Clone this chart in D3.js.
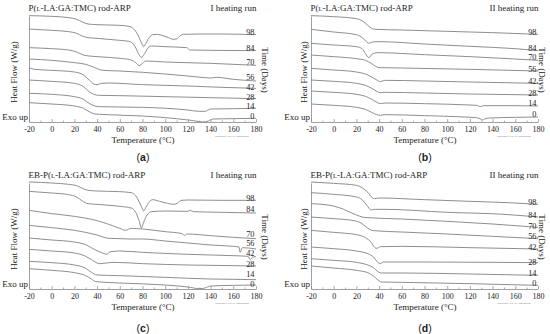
<!DOCTYPE html>
<html lang="en">
<head>
<meta charset="UTF-8">
<title>DSC heating runs</title>
<script src="https://cdn.jsdelivr.net/npm/d3@7"></script>
<style>
  body { margin:0; padding:0; background:#fff; }
  svg { display:block; }
  text { font-family: "Liberation Serif", "DejaVu Serif", serif; fill:#222; }
  .curve { fill:none; stroke:#888; stroke-width:0.95; }
  .xAxis path, .yAxis path { stroke:#888; stroke-width:0.8; }
  .xAxis line { stroke:#888; stroke-width:0.7; }
  .xAxis text { font-size:8px; }
  .lbl { font-size:9px; }
  .day { font-size:8.3px; }
  .tag { font-family:"Liberation Sans", Arial, sans-serif; font-size:10.5px; }
  .ta { font-family:"Liberation Sans", Arial, sans-serif; font-size:2.4px; fill:#777; }
</style>
</head>
<body>
<div id="chart"></div>
<script>
// curve order follows the day labels, top to bottom
const days = [98, 84, 70, 56, 42, 28, 14, 0];
const xTicks = [-20, 0, 20, 40, 60, 80, 100, 120, 140, 160, 180];
const minorTicks = [-10, 10, 30, 50, 70, 90, 110, 130, 150, 170];
const titlePrefix = ["P(", "P(", "EB-P(", "EB-P("];
const runs = ["I heating run", "II heating run", "I heating run", "II heating run"];
const tags = ["a", "b", "c", "d"];

// heat flow, arbitrary units (exo up), pairs of [temperature, value]
const curvesA = [
  [[-20,319],[0,317],[15,313],[22,308],[27,300],[32,294],[40,292],[60,290],[68,287],[72,280],[76,261],[80,231],[81,226],[83,236],[86,254],[89,262],[93,263],[98,259],[103,253],[107,248],[110,249],[113,258],[116,263],[130,264],[150,264],[180,262]],
  [[-20,279],[0,275],[15,271],[22,266],[27,258],[32,253],[40,251],[60,245],[68,242],[72,234],[75,216],[79,194],[82,206],[85,223],[88,228],[100,226],[119,223],[122,216],[140,215],[180,214]],
  [[-20,223],[0,220],[15,216],[22,210],[28,201],[33,198],[40,196],[60,191],[70,186],[74,178],[77,169],[80,176],[83,183],[100,180],[140,176],[180,170]],
  [[-20,189],[0,185],[20,178],[30,173],[38,163],[45,155],[60,153],[100,144],[120,138],[135,133],[140,132],[145,134],[160,128],[180,123]],
  [[-20,163],[-15,158],[0,155],[20,150],[28,141],[33,126],[37,114],[40,112],[44,116],[50,117],[80,112],[120,108],[150,104],[180,101]],
  [[-20,126],[0,122],[20,116],[28,106],[33,91],[38,82],[42,80],[60,79],[100,76],[140,73],[180,70]],
  [[-20,86],[0,83],[20,76],[28,68],[33,56],[38,48],[42,46],[80,44],[120,36],[130,32],[135,32],[140,39],[160,40],[180,41]],
  [[-20,58],[0,54],[20,48],[28,41],[33,31],[38,24],[42,23],[80,18],[110,10],[125,4],[133,0],[138,3],[142,9],[160,10],[180,11]]
];
const curvesB = [
  [[-20,319],[0,316],[20,310],[25,304],[30,290],[34,280],[37,278],[60,276],[100,272],[140,268],[180,263]],
  [[-20,278],[0,270],[20,262],[24,256],[28,244],[31,236],[34,240],[40,241],[80,234],[120,227],[160,220],[180,214]],
  [[-20,236],[0,231],[20,226],[25,220],[28,205],[31,193],[34,204],[38,208],[80,202],[120,196],[160,189],[180,185]],
  [[-20,201],[0,196],[20,190],[28,185],[33,176],[37,167],[40,163],[60,162],[120,158],[180,153]],
  [[-20,161],[0,156],[20,150],[28,144],[34,134],[38,126],[41,121],[45,125],[80,123],[120,120],[180,116]],
  [[-20,126],[0,122],[20,116],[28,110],[34,100],[38,92],[41,88],[45,89],[80,87],[120,84],[180,81]],
  [[-20,93],[0,89],[20,83],[28,77],[34,67],[38,59],[41,55],[45,57],[80,55],[120,51],[126,50],[129,46],[132,49],[160,49],[180,48]],
  [[-20,54],[0,50],[20,44],[28,38],[34,28],[38,22],[41,20],[45,22],[80,19],[115,15],[125,13],[129,10],[131,6],[133,9],[137,12],[160,14],[180,15]]
];
const curvesC = [
  [[-20,321],[0,318],[15,314],[22,310],[27,302],[32,296],[40,294],[60,292],[70,289],[74,280],[77,262],[80,240],[81,234],[83,245],[86,262],[89,268],[95,263],[102,257],[107,254],[111,258],[114,266],[120,267],[150,266],[180,266]],
  [[-20,293],[0,288],[15,283],[22,276],[27,264],[32,256],[40,254],[60,248],[70,243],[74,230],[77,205],[79,183],[81,200],[84,222],[88,232],[100,234],[120,233],[122,236],[125,232],[150,230],[180,228]],
  [[-20,236],[0,226],[20,218],[40,205],[60,182],[65,176],[70,182],[80,180],[100,172],[115,166],[117,160],[119,165],[140,160],[160,155],[180,151]],
  [[-20,191],[0,184],[20,176],[40,162],[50,152],[60,151],[70,150],[80,150],[100,144],[120,138],[140,132],[160,128],[165,126],[166,110],[168,124],[180,120]],
  [[-20,153],[0,147],[20,141],[30,133],[38,118],[45,108],[48,104],[52,112],[60,114],[80,110],[120,104],[160,100],[173,98],[175,88],[177,96],[180,97]],
  [[-20,119],[0,114],[20,108],[30,98],[36,86],[42,76],[48,78],[55,80],[80,76],[120,72],[160,70],[180,69]],
  [[-20,83],[0,79],[20,72],[30,62],[35,50],[40,42],[60,40],[100,35],[140,30],[160,29],[180,28]],
  [[-20,61],[0,56],[20,49],[30,40],[35,30],[39,22],[60,18],[100,12],[120,6],[130,1],[135,3],[140,9],[160,11],[180,12]]
];
const curvesD = [
  [[-20,321],[0,317],[20,311],[25,304],[30,290],[34,274],[36,271],[40,273],[80,268],[120,263],[160,258],[180,254]],
  [[-20,289],[0,284],[20,276],[25,268],[29,252],[33,237],[36,239],[45,239],[100,230],[150,224],[180,216]],
  [[-20,256],[-5,252],[5,244],[12,234],[20,222],[25,216],[30,214],[60,210],[100,203],[140,195],[180,185]],
  [[-20,216],[0,211],[18,205],[24,198],[28,188],[32,178],[35,175],[60,171],[100,165],[140,158],[180,151]],
  [[-20,176],[0,170],[20,163],[28,154],[33,140],[36,125],[38,122],[41,127],[60,128],[120,124],[180,120]],
  [[-20,126],[0,121],[20,114],[30,106],[35,96],[39,80],[41,76],[44,81],[80,81],[140,80],[180,79]],
  [[-20,91],[0,86],[20,80],[30,72],[35,64],[39,52],[42,48],[60,48],[120,45],[180,41]],
  [[-20,69],[0,63],[20,56],[30,49],[35,39],[39,27],[42,21],[60,20],[120,16],[180,11]]
];
// vertical position of each day label, same units
const labelsA = [269, 223, 180, 134, 106, 76, 48, 18];
const labelsB = [269, 223, 194, 159, 123, 88, 56, 23];
const labelsC = [274, 241, 165, 137, 109, 76, 44, 16];
const labelsD = [261, 223, 188, 158, 126, 81, 48, 18];

const W = 550, H = 334;
const svg = d3.select("#chart").append("svg").attr("width", W).attr("height", H);

const panels = [
  {ox: 0,   oy: 0,   curves: curvesA, labels: labelsA, hfx: 13.5, tdx: 265, tagy: 160.5},
  {ox: 282, oy: 0,   curves: curvesB, labels: labelsB, hfx: 22,   tdx: 260.5, tagy: 160.5},
  {ox: 0,   oy: 167, curves: curvesC, labels: labelsC, hfx: 13.5, tdx: 265, tagy: 165},
  {ox: 282, oy: 167, curves: curvesD, labels: labelsD, hfx: 22,   tdx: 260.5, tagy: 165}
];

panels.forEach(function(p, i) {
  let g = svg.append("g").attr("transform", "translate(" + p.ox + "," + p.oy + ")");
  let x = d3.scaleLinear().domain([-20, 180]).range([29, 256]);
  let y = d3.scaleLinear().domain([0, 318]).range([122, 16]);

  // axes
  g.append("g").attr("class", "xAxis").attr("transform", "translate(0,122)")
    .call(d3.axisBottom(x).tickValues(xTicks).tickSizeInner(-3).tickSizeOuter(0).tickPadding(4)
      .tickFormat(function(d) { return d < 0 ? "-" + Math.abs(d) : d; }));
  g.append("g").attr("class", "xAxis").attr("transform", "translate(0,122)")
    .call(d3.axisBottom(x).tickValues(minorTicks).tickSizeInner(-1.5).tickSizeOuter(0).tickFormat(""))
    .select(".domain").remove();
  g.append("g").attr("class", "yAxis").attr("transform", "translate(29,0)")
    .call(d3.axisLeft(y).tickValues([]).tickSizeOuter(0));

  // curves
  let line = d3.line().x(function(d) { return x(d[0]); }).y(function(d) { return y(d[1]); })
    .curve(d3.curveMonotoneX);
  g.selectAll(".curve").data(p.curves).enter().append("path")
    .attr("class", "curve").attr("d", line);

  // day labels
  g.selectAll(".day").data(days).enter().append("text")
    .attr("class", "day")
    .attr("x", x(180) - 1.5)
    .attr("y", function(d, k) { return y(p.labels[k]); })
    .attr("dy", "0.35em")
    .attr("text-anchor", "end")
    .text(function(d) { return d; });

  // titles
  let t = g.append("text").attr("class", "lbl").attr("x", 28.5).attr("y", 11);
  t.append("tspan").text(titlePrefix[i]);
  t.append("tspan").style("font-size", "6.4px").text("L");
  t.append("tspan").text("-LA:GA:TMC) rod-ARP");
  g.append("text").attr("class", "lbl").attr("x", 256.5).attr("y", 11).attr("text-anchor", "end")
    .text(runs[i]);

  g.append("text").attr("class", "lbl").attr("x", 28).attr("y", 120).attr("text-anchor", "end")
    .text("Exo up");
  g.append("text").attr("class", "lbl").attr("transform", "translate(" + p.hfx + ",72) rotate(-90)")
    .attr("text-anchor", "middle").attr("dy", "0.35em")
    .text("Heat Flow (W/g)");
  g.append("text").attr("class", "lbl").attr("transform", "translate(" + p.tdx + ",70) rotate(90)")
    .attr("text-anchor", "middle").attr("dy", "0.35em")
    .text("Time (Days)");
  g.append("text").attr("class", "lbl").attr("x", 143).attr("y", 143).attr("text-anchor", "middle")
    .text("Temperature (\u00B0C)");
  g.append("text").attr("class", "ta").attr("x", 232).attr("y", 136.5).attr("text-anchor", "middle")
    .text("Universal V4.5A TA Instruments");

  let tg = g.append("text").attr("class", "tag").attr("x", 143).attr("y", p.tagy).attr("text-anchor", "middle");
  tg.append("tspan").text("(");
  tg.append("tspan").style("font-weight", "bold").text(tags[i]);
  tg.append("tspan").text(")");
});
</script>
</body>
</html>
